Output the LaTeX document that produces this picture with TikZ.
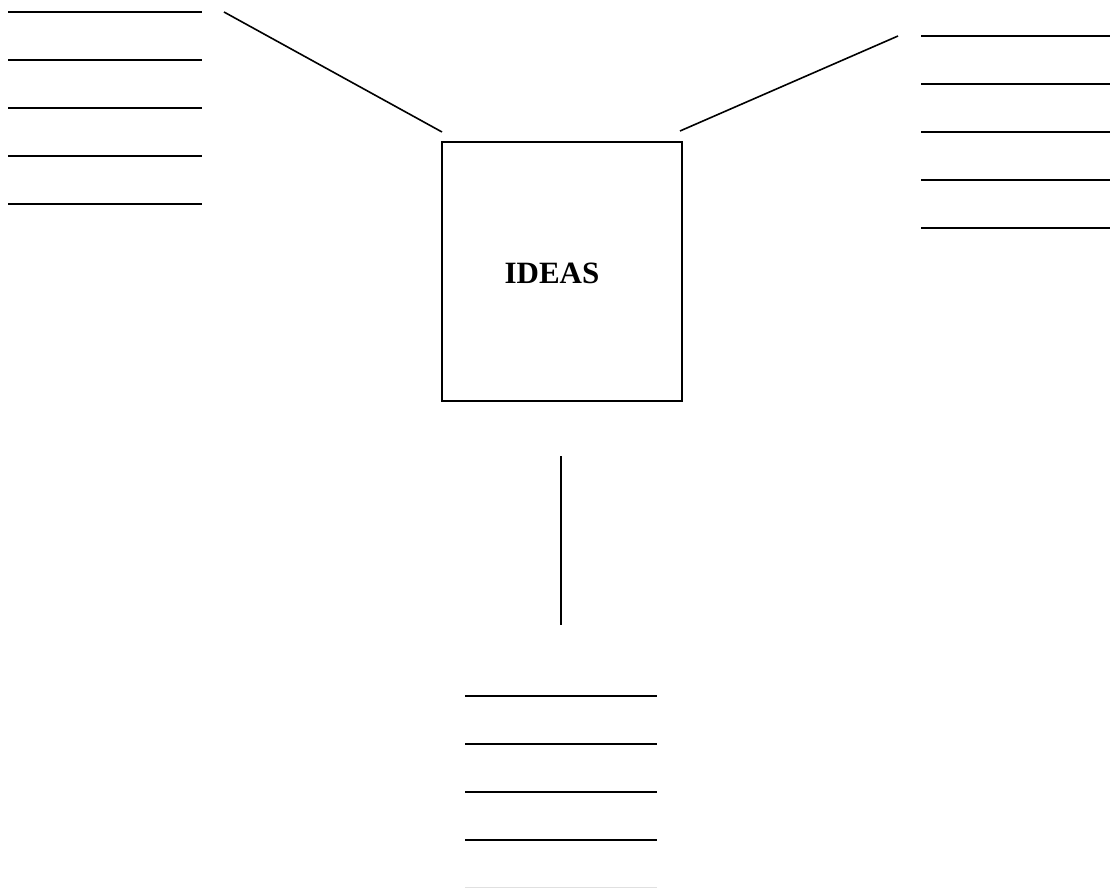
\documentclass[tikz,border=0pt]{standalone}
\usepackage{fontspec}
\setmainfont{Liberation Serif}
\begin{document}
\begin{tikzpicture}[x=1pt,y=-1pt,
  rule/.style={line width=2.3pt},
  conn/.style={line width=1.6pt},
  ideabox/.style={draw,line width=1.2pt,minimum width=240pt,minimum height=259pt,inner sep=0pt}]
\useasboundingbox (0,0) rectangle (1110,888);
\node[ideabox] (ideas) at (562,271.5) {};
\node[font=\fontsize{31}{36}\selectfont\bfseries] (label) at (552,273) {IDEAS};
% left lines
\foreach \y in {12,60,108,156,204} \draw[rule] (8,\y) -- (202,\y);
% right lines
\foreach \y in {36,84,132,180,228} \draw[rule] (921,\y) -- (1110,\y);
% bottom lines
\foreach \y in {696,744,792,840} \draw[rule] (465,\y) -- (657,\y);
\draw[line width=1pt,black!12] (465,887.5) -- (657,887.5);
% connectors
\coordinate (l1) at (224,12);
\coordinate (l2) at (442,132);
\coordinate (r1) at (680,131);
\coordinate (r2) at (898,36);
\coordinate (b1) at (561,456);
\coordinate (b2) at (561,625);
\draw[conn] (l1) -- (l2);
\draw[conn] (r1) -- (r2);
\draw[conn] (b1) -- (b2);
\end{tikzpicture}
\end{document}
